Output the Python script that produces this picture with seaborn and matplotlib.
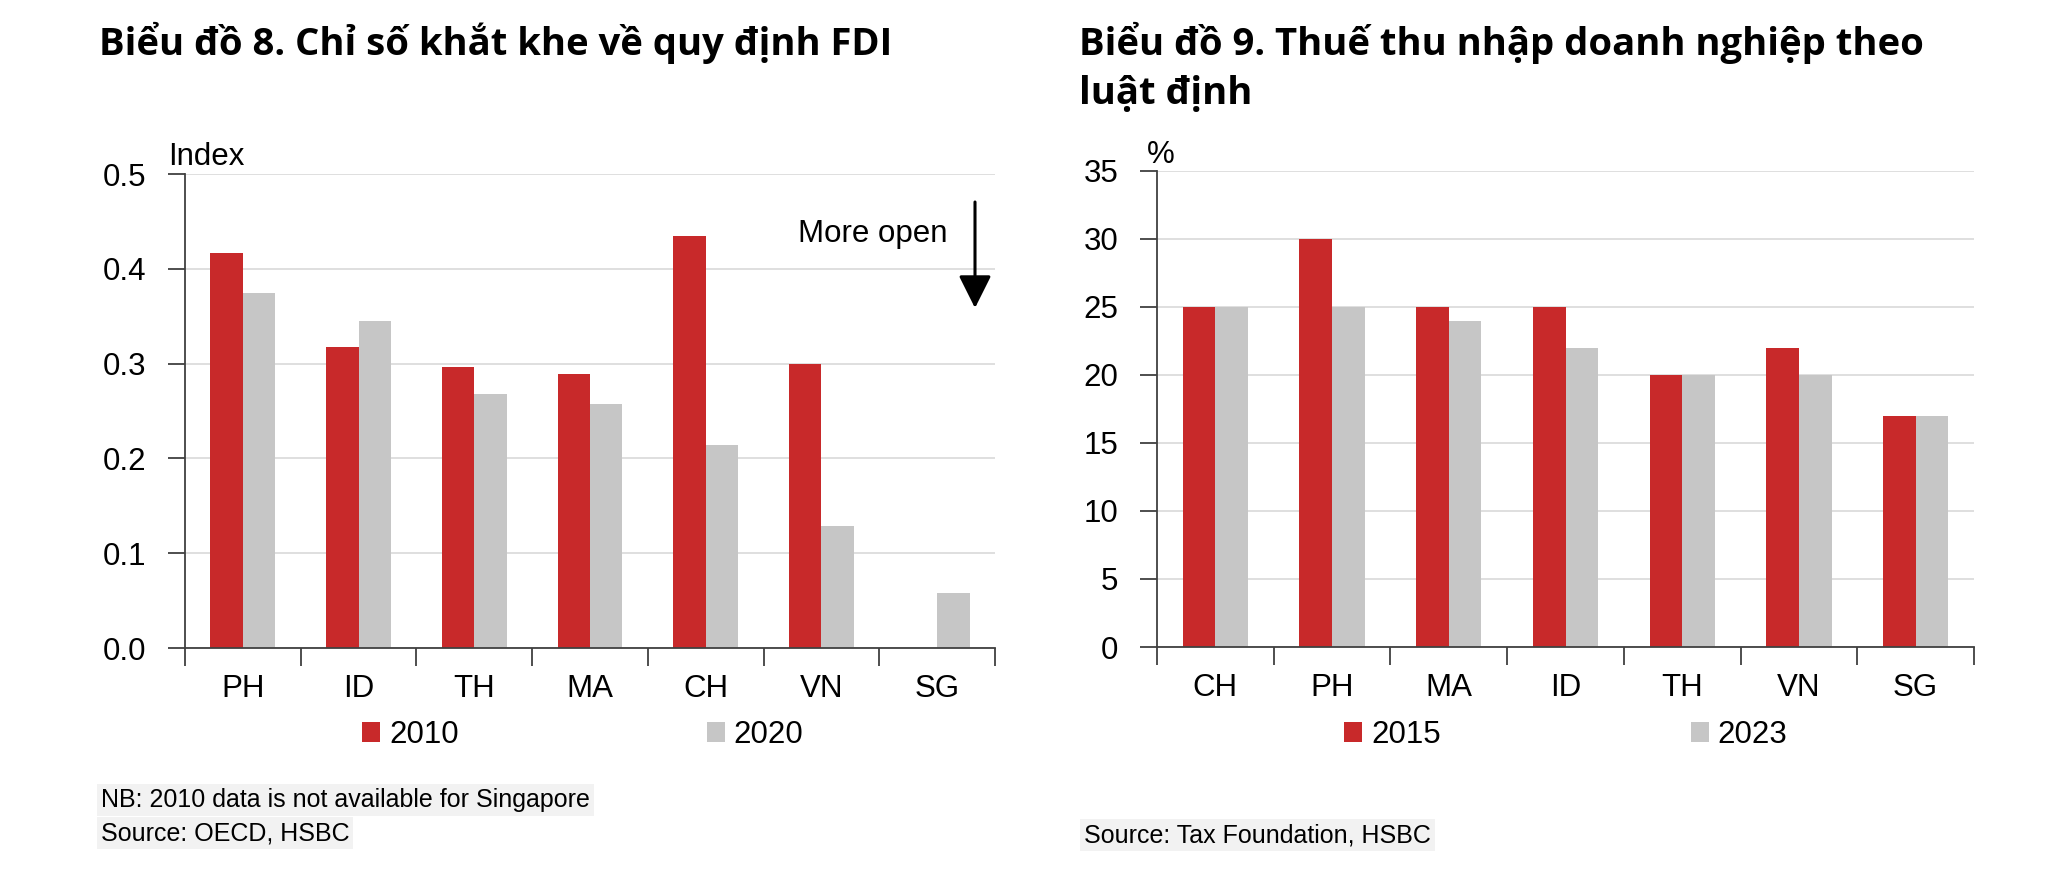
import numpy as np
import pandas as pd
import matplotlib
matplotlib.use("Agg")
import matplotlib.pyplot as plt
import seaborn as sns
from matplotlib.ticker import FormatStrFormatter, NullFormatter

# ---------------- data ----------------
fdi_countries = ["PH", "ID", "TH", "MA", "CH", "VN", "SG"]
fdi_2010 = [0.417, 0.317, 0.296, 0.289, 0.435, 0.300, np.nan]
fdi_2020 = [0.374, 0.345, 0.268, 0.257, 0.214, 0.129, 0.058]
fdi_years = ["2010", "2020"]

tax_countries = ["CH", "PH", "MA", "ID", "TH", "VN", "SG"]
tax_2015 = [25, 30, 25, 25, 20, 22, 17]
tax_2023 = [25, 25, 24, 22, 20, 20, 17]
tax_years = ["2015", "2023"]

fdi_yticks = [0.0, 0.1, 0.2, 0.3, 0.4, 0.5]
tax_yticks = [0, 5, 10, 15, 20, 25, 30, 35]

title_left = "Biểu đồ 8. Chỉ số khắt khe về quy định FDI"
title_right_1 = "Biểu đồ 9. Thuế thu nhập doanh nghiệp theo"
title_right_2 = "luật định"
note_left = "NB: 2010 data is not available for Singapore"
source_left = "Source: OECD, HSBC"
source_right = "Source: Tax Foundation, HSBC"

RED = "#C8292A"
GRAY = "#C6C6C6"

sns.set_theme(style="white")
NARROW = ["Liberation Sans Narrow", "Liberation Sans", "DejaVu Sans"]
TITLEF = ["Open Sans", "Noto Sans", "DejaVu Sans"]
plt.rcParams["font.family"] = NARROW
plt.rcParams["text.color"] = "black"

FS = 22.5          # tick / legend / annotation font size
TITLE_FS = 27.5

W, H = 2064, 896
fig = plt.figure(figsize=(W / 100, H / 100), dpi=100)
fig.patch.set_facecolor("white")


def fx(px):
    return px / W


def fy(py):
    return 1 - py / H


def make_df(countries, a, b, years):
    return pd.DataFrame({
        "country": countries * 2,
        "year": [years[0]] * len(countries) + [years[1]] * len(countries),
        "value": list(a) + list(b),
    })


def style(ax, countries, ymax, yticks, fmt):
    ax.set_xlim(-0.5, len(countries) - 0.5)
    ax.set_ylim(0, ymax)
    ax.set_yticks(yticks)
    ax.yaxis.set_major_formatter(fmt)
    ax.set_xticks(np.arange(-0.5, len(countries), 1.0))
    ax.xaxis.set_major_formatter(NullFormatter())
    ax.set_xticks(np.arange(len(countries)), minor=True)
    ax.set_xticklabels(countries, minor=True)
    ax.tick_params(axis="x", which="major", length=13, width=1.3,
                   color="#404040", direction="out", bottom=True)
    ax.tick_params(axis="x", which="minor", length=0, pad=19,
                   labelsize=FS, labelcolor="black")
    ax.tick_params(axis="y", length=12, width=1.3, color="#404040",
                   direction="out", left=True, pad=16, labelsize=FS,
                   labelcolor="black")
    for s in ["top", "right"]:
        ax.spines[s].set_visible(False)
    for s in ["left", "bottom"]:
        ax.spines[s].set_color("#404040")
        ax.spines[s].set_linewidth(1.3)
    ax.yaxis.grid(True, color="#DCDCDC", linewidth=1.3)
    ax.xaxis.grid(False)
    ax.set_axisbelow(True)
    ax.set_xlabel("")
    ax.set_ylabel("")


def put_legend(ax, x_px, y_px, gap_px):
    leg = ax.get_legend()
    handles = leg.legend_handles
    labels = [t.get_text() for t in leg.get_texts()]
    leg.remove()
    em = FS * 100 / 72
    fig.legend(handles, labels, ncol=2, loc="center left",
               bbox_to_anchor=(fx(x_px), fy(y_px)),
               bbox_transform=fig.transFigure, frameon=False,
               fontsize=FS, handlelength=18 / em, handleheight=20 / em,
               handletextpad=9 / em, columnspacing=gap_px / em,
               borderaxespad=0, borderpad=0)


# ---------------- left chart ----------------
ax1 = fig.add_axes([fx(185), fy(648), (995 - 185) / W, (648 - 174) / H])
df1 = make_df(fdi_countries, fdi_2010, fdi_2020, fdi_years)
sns.barplot(data=df1, x="country", y="value", hue="year", order=fdi_countries,
            hue_order=fdi_years, palette=[RED, GRAY], saturation=1,
            width=0.56, errorbar=None, linewidth=0, ax=ax1)
style(ax1, fdi_countries, 0.5, fdi_yticks, FormatStrFormatter("%.1f"))
put_legend(ax1, 362, 735, 248)

# ---------------- right chart ----------------
ax2 = fig.add_axes([fx(1157), fy(647), (1974 - 1157) / W, (647 - 171) / H])
df2 = make_df(tax_countries, tax_2015, tax_2023, tax_years)
sns.barplot(data=df2, x="country", y="value", hue="year", order=tax_countries,
            hue_order=tax_years, palette=[RED, GRAY], saturation=1,
            width=0.56, errorbar=None, linewidth=0, ax=ax2)
style(ax2, tax_countries, 35, tax_yticks, FormatStrFormatter("%d"))
put_legend(ax2, 1344, 735, 250)

# ---------------- texts ----------------
fig.text(fx(99), fy(55), title_left, family=TITLEF, weight="bold",
         fontsize=TITLE_FS, va="baseline", ha="left")
fig.text(fx(1079), fy(55), title_right_1, family=TITLEF, weight="bold",
         fontsize=TITLE_FS, va="baseline", ha="left")
fig.text(fx(1079), fy(104), title_right_2, family=TITLEF, weight="bold",
         fontsize=TITLE_FS, va="baseline", ha="left")

fig.text(fx(168), fy(165), "Index", fontsize=FS, va="baseline", ha="left")
fig.text(fx(1147), fy(163), "%", fontsize=FS, va="baseline", ha="left")
fig.text(fx(948), fy(242), "More open", fontsize=FS, va="baseline", ha="right")
fig.add_artist(matplotlib.patches.FancyArrowPatch(
    (fx(975), fy(202)), (fx(975), fy(308)), transform=fig.transFigure,
    arrowstyle="-|>,head_length=1.0,head_width=0.5", mutation_scale=20,
    lw=2.2, color="black", shrinkA=0, shrinkB=0))

box = dict(boxstyle="square,pad=0.15", fc="#F2F2F2", ec="none")
fig.text(fx(101), fy(800), note_left, fontsize=18, va="center", ha="left", bbox=box)
fig.text(fx(101), fy(833), source_left, fontsize=18, va="center", ha="left", bbox=box)
fig.text(fx(1084), fy(835), source_right, fontsize=18, va="center", ha="left", bbox=box)

fig.savefig("out.png", dpi=100, facecolor="white")
